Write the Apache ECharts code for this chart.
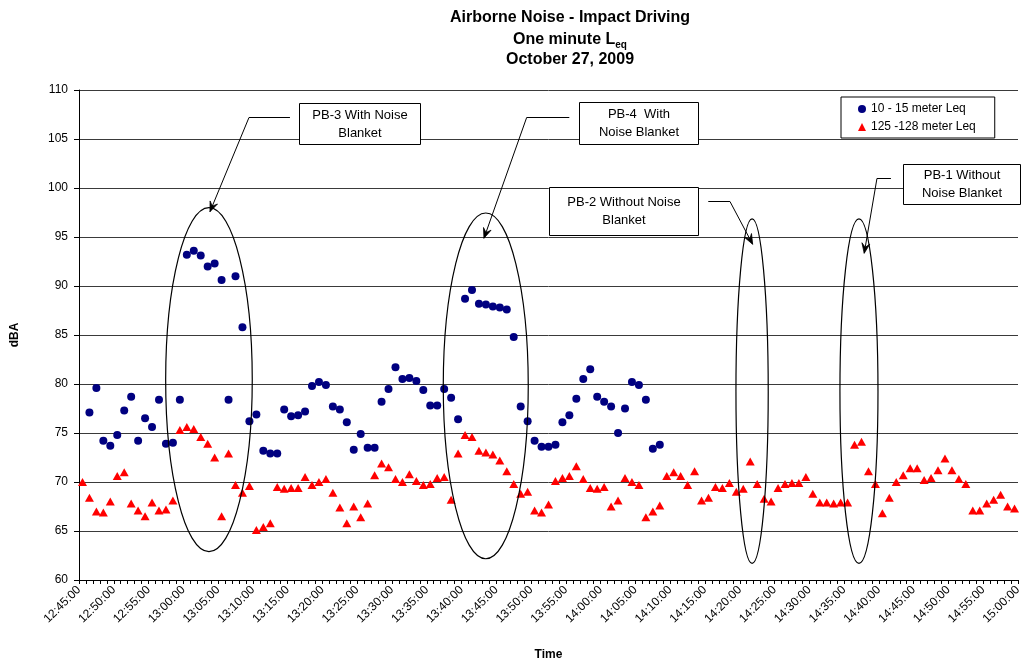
<!DOCTYPE html>
<html>
<head>
<meta charset="utf-8">
<script src="https://cdn.jsdelivr.net/npm/echarts@6/dist/echarts.min.js"></script>
<style>
html,body{margin:0;padding:0;background:#fff;}
#c{width:1021px;height:664px;}
</style>
</head>
<body>
<div id="c"></div>
<script>
// ---- tick labels (every 5 minutes) ----
const tickLabels = ["12:45:00","12:50:00","12:55:00","13:00:00","13:05:00","13:10:00","13:15:00",
  "13:20:00","13:25:00","13:30:00","13:35:00","13:40:00","13:45:00","13:50:00","13:55:00",
  "14:00:00","14:05:00","14:10:00","14:15:00","14:20:00","14:25:00","14:30:00","14:35:00",
  "14:40:00","14:45:00","14:50:00","14:55:00","15:00:00"];

// ---- one-minute categories 12:45:00 .. 14:59:00 ----
const categories = [];
for (let t = 12 * 60 + 45; t < 15 * 60; t++) {
  const h = Math.floor(t / 60), m = t % 60;
  categories.push(h + ":" + (m < 10 ? "0" : "") + m + ":00");
}

// ---- 10 - 15 meter Leq (dBA) ----
const near = ['-', 77.1, 79.6, 74.2, 73.7, 74.8, 77.3, 78.7, 74.2, 76.5,
  75.6, 78.4, 73.9, 74.0, 78.4, 93.2, 93.6, 93.1, 92.0, 92.3,
  90.6, 78.4, 91.0, 85.8, 76.2, 76.9, 73.2, 72.9, 72.9, 77.4,
  76.7, 76.8, 77.2, 79.8, 80.2, 79.9, 77.7, 77.4, 76.1, 73.3,
  74.9, 73.5, 73.5, 78.2, 79.5, 81.7, 80.5, 80.6, 80.3, 79.4,
  77.8, 77.8, 79.5, 78.6, 76.4, 88.7, 89.6, 88.2, 88.1, 87.9,
  87.8, 87.6, 84.8, 77.7, 76.2, 74.2, 73.6, 73.6, 73.8, 76.1,
  76.8, 78.5, 80.5, 81.5, 78.7, 78.2, 77.7, 75.0, 77.5, 80.2,
  79.9, 78.4, 73.4, 73.8];

// ---- 125 - 128 meter Leq (dBA) ----
const far = [70.0, 68.4, 67.0, 66.9, 68.0, 70.6, 71.0, 67.8, 67.1, 66.5,
  67.9, 67.1, 67.2, 68.1, 75.3, 75.6, 75.4, 74.6, 73.9, 72.5,
  66.5, 72.9, 69.7, 68.9, 69.6, 65.1, 65.4, 65.8, 69.5, 69.3,
  69.4, 69.4, 70.5, 69.7, 70.0, 70.3, 68.9, 67.4, 65.8, 67.5,
  66.4, 67.8, 70.7, 71.9, 71.5, 70.3, 70.0, 70.8, 70.1, 69.7,
  69.8, 70.4, 70.5, 68.2, 72.9, 74.8, 74.6, 73.2, 73.0, 72.8,
  72.2, 71.1, 69.8, 68.8, 69.0, 67.1, 66.9, 67.7, 70.1, 70.4,
  70.6, 71.6, 70.3, 69.4, 69.3, 69.5, 67.5, 68.1, 70.4, 70.0,
  69.7, 66.4, 67.0, 67.6, 70.6, 71.0, 70.6, 69.7, 71.1, 68.1,
  68.4, 69.5, 69.4, 69.9, 69.0, 69.3, 72.1, 69.8, 68.3, 68.0,
  69.4, 69.8, 69.9, 69.9, 70.5, 68.8, 67.9, 67.9, 67.8, 67.9,
  67.9, 73.8, 74.1, 71.1, 69.8, 66.8, 68.4, 70.0, 70.7, 71.4,
  71.4, 70.2, 70.4, 71.2, 72.4, 71.2, 70.3, 69.8, 67.1, 67.1,
  67.8, 68.2, 68.7, 67.5, 67.3];

const seriesNames = ["10 - 15 meter Leq", "125 -128 meter Leq"];

// ---- annotations, in axis units (minutes after 12:45, dBA) ----
const ellipses = [
  {x1: 12.46, x2: 24.91, yTop: 97.99, yBot: 62.89},
  {x1: 52.37, x2: 64.59, yTop: 97.45, yBot: 62.17},
  {x1: 94.45, x2: 99.09, yTop: 96.84, yBot: 61.70},
  {x1: 109.4, x2: 114.87, yTop: 96.84, yBot: 61.70}
];
const callouts = [
  {text: "PB-3 With Noise\nBlanket", box: [31.63, 49.02, 108.70, 104.49],
   leader: [[30.33, 107.24], [24.44, 107.24], [18.83, 97.58]]},
  {text: "PB-4  With\nNoise Blanket", box: [71.92, 89.03, 108.74, 104.49],
   leader: [[70.49, 107.27], [64.36, 107.27], [58.22, 94.87]]},
  {text: "PB-2 Without Noise\nBlanket", box: [67.57, 89.03, 100.13, 95.20],
   leader: [[90.47, 98.67], [93.59, 98.67], [96.85, 94.26]]},
  {text: "PB-1 Without\nNoise Blanket", box: [118.5, 135.28, 102.45, 98.37],
   leader: [[116.73, 100.99], [114.72, 100.99], [112.89, 93.34]]}
];

const FONT = "'Liberation Sans', Arial, sans-serif";
const chart = echarts.init(document.getElementById('c'), null, {renderer: 'canvas'});

const titleBase = {left: 570, textAlign: 'center', padding: 0,
  textStyle: {fontFamily: FONT, fontSize: 16, fontWeight: 'bold', color: '#000'}};

const option = {
  animation: false,
  backgroundColor: '#fff',
  title: [
    Object.assign({}, titleBase, {top: 10, text: "Airborne Noise - Impact Driving"}),
    Object.assign({}, titleBase, {top: 30, text: "{a|One minute L}{s|eq}",
      textStyle: {fontFamily: FONT, color: '#000', rich: {
        a: {fontFamily: FONT, fontSize: 16, fontWeight: 'bold', color: '#000', lineHeight: 20},
        s: {fontFamily: FONT, fontSize: 10, fontWeight: 'bold', color: '#000', lineHeight: 10, verticalAlign: 'bottom'}
      }}}),
    Object.assign({}, titleBase, {top: 52, text: "October 27, 2009"})
  ],
  legend: {
    orient: 'vertical', left: 841, top: 97,
    padding: [5, 19, 4, 17], itemGap: 4, itemWidth: 8, itemHeight: 8,
    borderColor: '#000', borderWidth: 1, backgroundColor: '#fff',
    textStyle: {fontFamily: FONT, fontSize: 12, color: '#000', lineHeight: 14},
    data: [{name: seriesNames[0], icon: 'circle'}, {name: seriesNames[1], icon: 'triangle'}]
  },
  grid: {left: 79, right: 3, top: 90, bottom: 84, containLabel: false, outerBoundsMode: 'none'},
  xAxis: [
    {
      type: 'category', data: categories, boundaryGap: true,
      axisLine: {show: true, lineStyle: {color: '#000', width: 1}},
      axisTick: {show: true, interval: 0, length: 4, lineStyle: {color: '#000'}},
      axisLabel: {show: false}, splitLine: {show: false}
    },
    {
      type: 'value', min: 0, max: 135, interval: 5, position: 'bottom',
      axisLine: {show: false}, axisTick: {show: false}, splitLine: {show: false},
      axisLabel: {rotate: 45, fontFamily: FONT, fontSize: 12, color: '#000', margin: 8,
        formatter: function (v) { return tickLabels[Math.round(v / 5)] || ''; }},
      name: 'Time', nameLocation: 'middle', nameGap: 69,
      nameTextStyle: {fontFamily: FONT, fontSize: 12, fontWeight: 'bold', color: '#000'}
    }
  ],
  yAxis: {
    type: 'value', min: 60, max: 110, interval: 5,
    axisLine: {show: true, lineStyle: {color: '#000', width: 1}},
    axisTick: {show: true, length: 5, lineStyle: {color: '#000'}},
    axisLabel: {fontFamily: FONT, fontSize: 12, color: '#000', margin: 11},
    splitLine: {show: true, lineStyle: {color: '#3a3a3a', width: 1}},
    name: 'dBA', nameLocation: 'middle', nameGap: 58, nameRotate: 90,
    nameTextStyle: {fontFamily: FONT, fontSize: 12, fontWeight: 'bold', color: '#000'}
  },
  series: [
    {type: 'scatter', name: seriesNames[0], xAxisIndex: 0, yAxisIndex: 0, data: near,
     symbol: 'circle', symbolSize: 8, itemStyle: {color: '#000080', opacity: 1},
     emphasis: {disabled: true}, z: 3},
    {type: 'scatter', name: seriesNames[1], xAxisIndex: 0, yAxisIndex: 0, data: far,
     symbol: 'triangle', symbolSize: [9, 8], itemStyle: {color: '#ff0000', opacity: 1},
     emphasis: {disabled: true}, z: 4}
  ]
};
chart.setOption(option);

// ---- annotation graphics positioned through the axes ----
function PX(m) { return chart.convertToPixel({xAxisIndex: 1}, m); }
function PY(v) { return chart.convertToPixel({yAxisIndex: 0}, v); }

const g = [];
ellipses.forEach(function (e) {
  const xa = PX(e.x1), xb = PX(e.x2), ya = PY(e.yTop), yb = PY(e.yBot);
  g.push({type: 'ellipse', z: 10,
    shape: {cx: (xa + xb) / 2, cy: (ya + yb) / 2, rx: (xb - xa) / 2, ry: (yb - ya) / 2},
    style: {fill: null, stroke: '#000', lineWidth: 1.2}});
});
callouts.forEach(function (c) {
  const bx1 = Math.round(PX(c.box[0])) + 0.5, bx2 = Math.round(PX(c.box[1])) + 0.5;
  const by1 = Math.round(PY(c.box[2])) + 0.5, by2 = Math.round(PY(c.box[3])) + 0.5;
  g.push({type: 'rect', z: 11, shape: {x: bx1, y: by1, width: bx2 - bx1, height: by2 - by1},
    style: {fill: '#fff', stroke: '#000', lineWidth: 1}});
  g.push({type: 'text', z: 12, x: (bx1 + bx2) / 2, y: (by1 + by2) / 2,
    style: {text: c.text, fill: '#000', font: "13px 'Liberation Sans', Arial, sans-serif",
      align: 'center', verticalAlign: 'middle', lineHeight: 18}});
  const pts = c.leader.map(function (p) { return [PX(p[0]), PY(p[1])]; });
  pts[0][1] = Math.round(pts[0][1]) + 0.5; pts[1][1] = pts[0][1];
  g.push({type: 'polyline', z: 11, shape: {points: pts}, style: {stroke: '#000', fill: null, lineWidth: 1}});
  // arrow head
  const t = pts[pts.length - 1], s = pts[pts.length - 2];
  let dx = t[0] - s[0], dy = t[1] - s[1];
  const len = Math.sqrt(dx * dx + dy * dy); dx /= len; dy /= len;
  const nx = -dy, ny = dx, L = 10, W = 4;
  g.push({type: 'polygon', z: 11, shape: {points: [
    [t[0], t[1]],
    [t[0] - dx * L + nx * W, t[1] - dy * L + ny * W],
    [t[0] - dx * L * 0.6, t[1] - dy * L * 0.6],
    [t[0] - dx * L - nx * W, t[1] - dy * L - ny * W]
  ]}, style: {fill: '#000', stroke: '#000', lineWidth: 0.8}});
});
chart.setOption({graphic: g});
</script>
</body>
</html>
